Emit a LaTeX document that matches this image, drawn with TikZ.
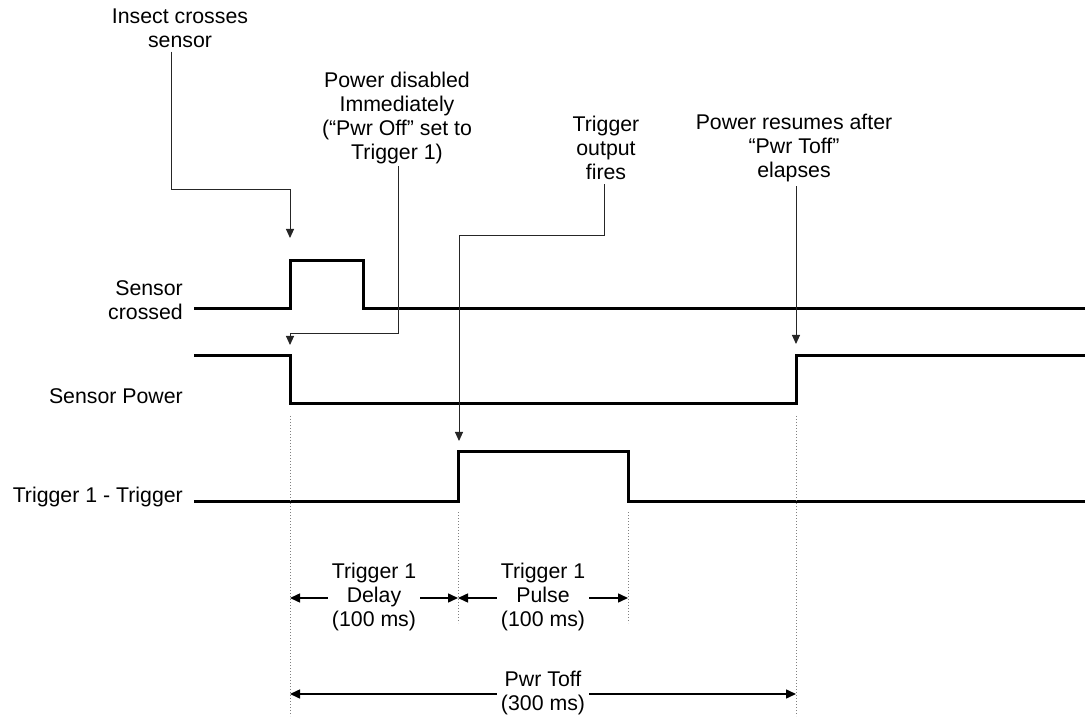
\documentclass[tikz,border=0pt]{standalone}
\usepackage{fontspec}
\setmainfont{Liberation Sans}
\usetikzlibrary{arrows.meta}
\begin{document}
\begin{tikzpicture}[x=1pt,y=-1pt,
  lbl/.style={inner sep=0pt, align=center, font=\fontsize{21.3}{24}\selectfont},
  rlbl/.style={inner sep=0pt, align=right, anchor=east, font=\fontsize{21.3}{24}\selectfont},
  sig/.style={line width=3pt, line join=miter},
  leader/.style={line width=1pt, black!85, -{Triangle[length=9pt,width=8pt]}},
  guide/.style={gray, line width=1pt, dash pattern=on 1pt off 2pt},
  dim/.style={line width=1.5pt, -{Triangle[length=10pt,width=9pt]}},
]
\useasboundingbox (0,0) rectangle (1088,719);

% signal labels
\node[rlbl] (lsc) at (183,300) {Sensor\\crossed};
\node[rlbl] (lsp) at (183,396) {Sensor Power};
\node[rlbl] (ltr) at (183,497) {Trigger 1 - Trigger};

% waveforms
\draw[sig] (194,309) -- (290,309) -- (290,261) -- (363,261) -- (363,309) -- (1085,309);
\draw[sig] (194,356) -- (290,356) -- (290,404) -- (796,404) -- (796,356) -- (1085,356);
\draw[sig] (194,501) -- (458,501) -- (458,452) -- (628,452) -- (628,501) -- (1085,501);

% guide lines
\coordinate (g0a) at (290,416); \coordinate (g0b) at (290,716);
\coordinate (g1a) at (458,512); \coordinate (g1b) at (458,623);
\coordinate (g2a) at (628,512); \coordinate (g2b) at (628,623);
\coordinate (g3a) at (796,416); \coordinate (g3b) at (796,716);
\draw[guide] (g0a) -- (g0b);
\draw[guide] (g1a) -- (g1b);
\draw[guide] (g2a) -- (g2b);
\draw[guide] (g3a) -- (g3b);

% annotations
\node[lbl] (ins) at (180,28) {Insect crosses\\sensor};
\node[lbl] (pwd) at (397,118) {Power disabled\\Immediately\\(“Pwr Off” set to\\Trigger 1)};
\node[lbl] (tof) at (606,148) {Trigger\\output\\fires};
\node[lbl] (prs) at (794,148) {Power resumes after\\“Pwr Toff”\\elapses};

\coordinate (a1) at (290,238);
\coordinate (a2) at (290,345);
\coordinate (a3) at (459,441);
\coordinate (a4) at (796,344);

\draw[leader] (ins.south -| 171,0) ++(0,4) |- (290,190) -- (a1);
\draw[leader] (pwd.south -| 398,0) ++(0,2) |- (290,334) -- (a2);
\draw[leader] (tof.south -| 604,0) ++(0,4) |- (459,236) -- (a3);
\draw[leader] (prs.south -| 796,0) ++(0,4) -- (a4);

% dimension labels
\node[lbl] (dly) at (374,597) {Trigger 1\\Delay\\(100 ms)};
\node[lbl] (pls) at (543,597) {Trigger 1\\Pulse\\(100 ms)};
\node[lbl] (ptf) at (543,693) {Pwr Toff\\(300 ms)};

\coordinate (d0) at (290,598);
\coordinate (d1) at (458,598);
\coordinate (d2) at (628,598);
\coordinate (p0) at (290,694);
\coordinate (p3) at (796,694);

\draw[dim] (dly.west |- d0) ++(-4,0) -- (d0);
\draw[dim] (dly.east |- d0) ++(4,0) -- (d1);
\draw[dim] (pls.west |- d1) ++(-4,0) -- (d1);
\draw[dim] (pls.east |- d2) ++(4,0) -- (d2);
\draw[dim] (ptf.west |- p0) ++(-4,0) -- (p0);
\draw[dim] (ptf.east |- p3) ++(4,0) -- (p3);
\end{tikzpicture}
\end{document}
